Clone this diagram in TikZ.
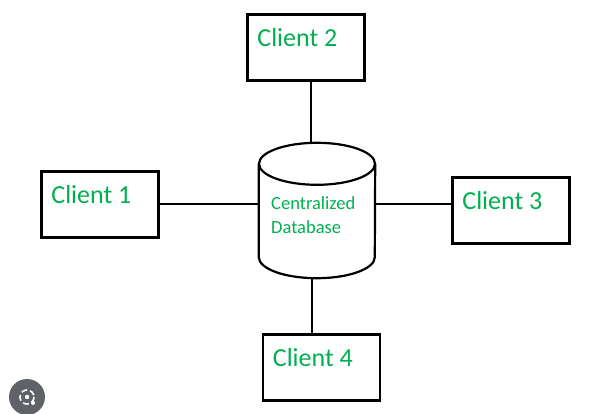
\documentclass[tikz,border=0pt]{standalone}
\usepackage{fontspec}
\setmainfont{Carlito}
\definecolor{labelgreen}{RGB}{0,176,80}
\definecolor{lensgray}{RGB}{95,99,104}

\begin{document}
\begin{tikzpicture}[x=1pt, y=-1pt,
    client/.style={draw, line width=2.6pt, minimum width=117pt, minimum height=66pt, inner sep=0pt},
    ctext/.style ={anchor=base west, inner sep=0pt, text=labelgreen, font=\fontsize{26}{30}\selectfont},
    dbase/.style ={minimum width=116pt, minimum height=135pt, inner sep=0pt},
    dbline/.style={line width=2.2pt},
    dbtext/.style={anchor=base west, inner sep=0pt, align=left, text=labelgreen,
                   font=\fontsize{18.5}{24}\selectfont},
    link/.style  ={line width=2pt}]
    \useasboundingbox (0,0) rectangle (614,414);
    % central store (cylinder drawn round an empty node)
    \node[dbase] (db) at (317,210.5) {};
    \draw[dbline] ([yshift=-21pt]db.north) ellipse [x radius=58pt, y radius=21pt];
    \draw[dbline] ([yshift=-21pt]db.north west) -- ([yshift=21pt]db.south west)
      arc[start angle=180, end angle=360, x radius=58pt, y radius=21pt]
      -- ([yshift=-21pt]db.north east);
    \node[dbtext] (dbl) at ([shift={(-46,23.5)}]db.center) {Centralized\\Database};
    % clients
    \node[client] (c1) at (100,204.5) {};
    \node[client] (c2) at (306,47.5) {};
    \node[client] (c3) at (511,210.5) {};
    \node[client] (c4) at (321.5,367.5) {};
    \node[ctext] (t1) at ([shift={(11,33)}]c1.north west) {Client 1};
    \node[ctext] (t2) at ([shift={(11,33)}]c2.north west) {Client 2};
    \node[ctext] (t3) at ([shift={(11,33)}]c3.north west) {Client 3};
    \node[ctext] (t4) at ([shift={(11,33)}]c4.north west) {Client 4};
    % links
    \draw[link] (c1.east) -- (c1.east -| db.west);
    \draw[link] (c1.east -| db.east) -- (c1.east -| c3.west);
    \draw[link] ([xshift=-6pt]db.north) -- ([xshift=-6pt]db.north |- c2.south);
    \draw[link] ([xshift=-5pt]db.south) -- ([xshift=-5pt]db.south |- c4.north);
    % lens button
    \node[circle, fill=lensgray, minimum size=36pt, inner sep=0pt] (lens) at (27,397) {};
    \draw[white, line width=1.6pt, dash pattern=on 6pt off 3pt] (lens.center) circle (7);
    \fill[white] (lens.center) circle (2.2);
    \fill[white] ([shift={(6,6)}]lens.center) circle (2);
\end{tikzpicture}
\end{document}
